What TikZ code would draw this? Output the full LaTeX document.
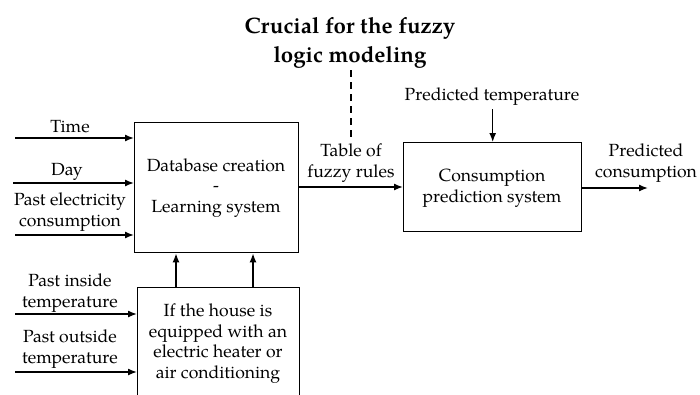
\documentclass[tikz,border=0pt]{standalone}
\usepackage{fontspec}
\setmainfont{TeX Gyre Pagella}
\usetikzlibrary{arrows.meta}
\begin{document}
\begin{tikzpicture}[x=1pt,y=-1pt,
  every node/.style={font=\fontsize{17.6}{20.8}\selectfont, inner sep=0pt},
  blk/.style={draw, line width=1.4pt, anchor=north west},
  lbl/.style={align=center},
  arr/.style={line width=1.4pt, -{Latex[length=9pt,width=7pt]}},
  ttl/.style={align=center, font=\fontsize{22.3}{28.5}\selectfont\bfseries}]
\useasboundingbox (0,0) rectangle (700,394);
% boxes
\node[blk, minimum width=164pt, minimum height=130pt] (db) at (134,122) {};
\node[lbl] (dbt) at (216,188) {Database creation\\-\\Learning system};
\node[blk, minimum width=162pt, minimum height=130pt] (ifb) at (137,287) {};
\node[lbl] (ift) at (218,343.5) {If the house is\\equipped with an\\electric heater or\\air conditioning};
\node[blk, minimum width=178pt, minimum height=89pt] (cp) at (403,142) {};
\node[lbl] (cpt) at (492,188.5) {Consumption\\prediction system};
% title
\node[ttl] (title) at (350,43) {Crucial for the fuzzy\\logic modeling};
% input labels
\node (tl) at (70,127) {Time};
\node (dl) at (67,172) {Day};
\node[lbl] (pel) at (70,212) {Past electricity\\consumption};
\node[lbl] (pil) at (70,293) {Past inside\\temperature};
\node[lbl] (pol) at (70,349) {Past outside\\temperature};
\node[lbl] (tfr) at (351,163) {Table of\\fuzzy rules};
\node (ptl) at (492,97) {Predicted temperature};
\node[lbl] (pcl) at (646,163) {Predicted\\consumption};
% coordinates
\coordinate (s1) at (15,138);
\coordinate (s2) at (13,183);
\coordinate (s3) at (15,235);
\coordinate (s4) at (15,314);
\coordinate (s5) at (15,372);
\coordinate (dtop) at (351,70);
\coordinate (dbot) at (351,140);
\coordinate (pts) at (492,110);
\coordinate (out) at (648,188);
% arrows
\draw[arr] (s1) -- (s1 -| db.west);
\draw[arr] (s2) -- (s2 -| db.west);
\draw[arr] (s3) -- (s3 -| db.west);
\draw[arr] (s4) -- (s4 -| ifb.west);
\draw[arr] (s5) -- (s5 -| ifb.west);
\draw[arr] (ifb.north -| 176,0) -- (db.south -| 176,0);
\draw[arr] (ifb.north -| 253,0) -- (db.south -| 253,0);
\draw[arr] (db.east |- 0,187) -- (cp.west |- 0,187);
\draw[arr] (pts) -- (cp.north |- pts) -- (cp.north);
\draw[arr] (cp.east |- out) -- (out);
\draw[line width=2.2pt, dash pattern=on 7pt off 5pt] (dtop) -- (dbot);
\end{tikzpicture}
\end{document}
